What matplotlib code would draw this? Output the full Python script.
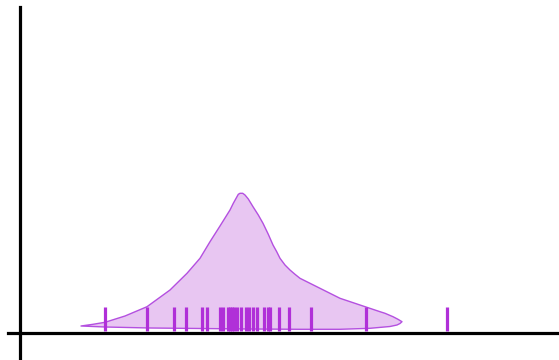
import matplotlib
matplotlib.use("Agg")
import matplotlib.pyplot as plt
import numpy as np

# Observations (rug marks)
rug_values = [8.5, 12.7, 15.4, 16.6, 18.2, 18.7, 20.0, 20.3, 20.8, 21.0, 21.2,
              21.4, 21.7, 22.1, 22.6, 22.9, 23.3, 23.7, 24.4, 24.8, 25.0, 25.9,
              26.9, 29.1, 34.6, 42.7]

# Density outline: upper edge
upper_x = [6.1, 7.3, 8.5, 10.5, 12.7, 15.0, 16.7, 18.0, 19.0, 20.0, 21.0, 21.33,
           21.83, 22.0, 22.27, 22.5, 22.83, 23.3, 23.83, 24.3, 24.83, 25.3, 25.67,
           26.0, 26.5, 27.0, 27.5, 28.0, 30.0, 32.0, 34.0, 36.0, 36.5, 37.3,
           37.8, 38.2]
upper_y = [0.73, 0.90, 1.10, 1.73, 2.66, 4.33, 6.00, 7.50, 9.16, 10.73, 12.33, 13.0,
           13.9, 14.0, 14.0, 13.83, 13.43, 12.66, 11.83, 11.0, 9.9, 8.83, 8.16,
           7.5, 6.83, 6.33, 5.9, 5.5, 4.50, 3.50, 2.83, 2.16, 2.0, 1.66,
           1.40, 1.16]
# lower edge
lower_x = [6.1, 8.5, 13.0, 18.0, 23.0, 28.0, 32.0, 35.0, 37.0, 37.7, 38.0, 38.2]
lower_y = [0.73, 0.63, 0.53, 0.48, 0.43, 0.40, 0.40, 0.50, 0.68, 0.83, 0.98, 1.16]

fig = plt.figure(figsize=(5.59, 3.60), dpi=100)
ax = fig.add_axes([8 / 559, 0, 551 / 559, 353 / 360])

poly_x = upper_x + lower_x[::-1]
poly_y = upper_y + lower_y[::-1]
ax.fill(poly_x, poly_y, facecolor="#e8c6f2", edgecolor="#b450e0", linewidth=1.0,
        joinstyle="round", zorder=2)

ax.vlines(rug_values, 0.23, 2.63, colors="#b030d8", linewidth=2.3, zorder=3)

ax.set_xlim(-1.2, 53.9)
ax.set_ylim(-2.67, 32.63)
for s in ["top", "right"]:
    ax.spines[s].set_visible(False)
for s in ["left", "bottom"]:
    ax.spines[s].set_position(("data", 0))
    ax.spines[s].set_linewidth(2.3)
    ax.spines[s].set_color("black")
ax.spines["bottom"].set_zorder(1)
ax.set_xticks([])
ax.set_yticks([])
ax.patch.set_alpha(0)

fig.savefig("out.png", dpi=100)
